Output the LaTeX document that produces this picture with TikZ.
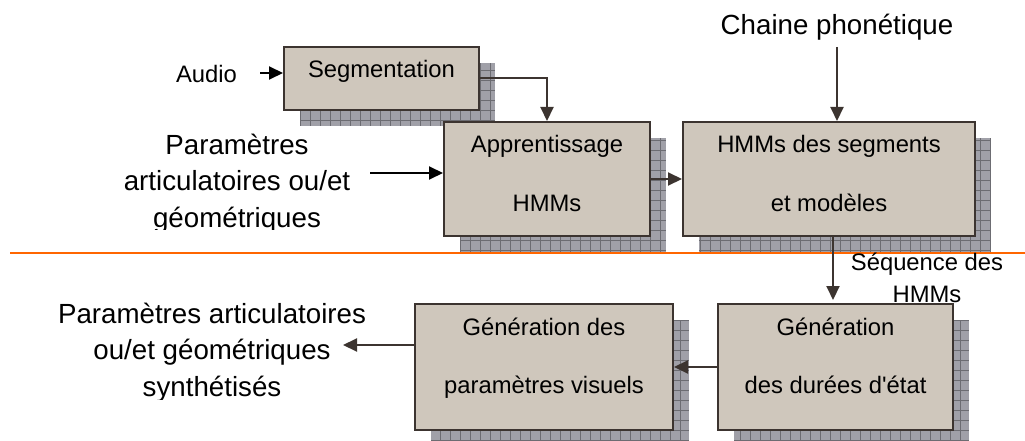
\documentclass[tikz,border=0pt]{standalone}
\usepackage{fontspec}
\setmainfont{Liberation Sans}[Ligatures=TeXOff]
\usetikzlibrary{arrows.meta,calc}
\definecolor{boxfill}{RGB}{207,199,188}
\definecolor{boxline}{RGB}{60,52,48}
\definecolor{shadefill}{RGB}{160,160,168}
\definecolor{shadeline}{RGB}{108,108,114}
\definecolor{sepline}{RGB}{255,102,0}
\newcommand{\bigfont}{\fontsize{27.7}{36.5}\selectfont}
\newcommand{\smallfont}{\fontsize{23.8}{32}\selectfont}

\begin{document}
\begin{tikzpicture}[x=1pt,y=-1pt,
  blk/.style={draw=boxline,fill=boxfill,line width=2pt},
  lbl/.style={anchor=base,font=\smallfont},
  flow/.style={draw=boxline,line width=2pt,-{Triangle[length=14pt,width=13pt]}}]
\tikzstyle{every node}+=[inner sep=0pt]
\useasboundingbox (0,0) rectangle (1025,441);

% shadows
\foreach \l/\t/\r/\b in {284/47/479/110,444/122/650/236,683/122/975/236,718/304/953/430,415/304/673/430}{
  \fill[shadefill] ({\l+16},{\t+16}) rectangle ({\r+16},{\b+16});
  \draw[shadeline,line width=0.6pt,step=10pt] ({\l+16},{\t+16}) grid ({\r+16},{\b+16});
}

% blocks
\node[blk,minimum width=195,minimum height=63] (seg) at (381.5,78.5) {};
\node[blk,minimum width=206,minimum height=114] (appr) at (547,179) {};
\node[blk,minimum width=292,minimum height=114] (hmm) at (829,179) {};
\node[blk,minimum width=235,minimum height=126] (gdur) at (835.5,367) {};
\node[blk,minimum width=258,minimum height=126] (gpar) at (544,367) {};

% separator
\draw[sepline,line width=2pt] (10,253) -- (1025,253);

% text in blocks
\node[lbl] (segt) at (381.5,78) {Segmentation};
\node[lbl] (apprt1) at (547,153) {Apprentissage};
\node[lbl] (apprt2) at (547,211) {HMMs};
\node[lbl] (hmmt1) at (829,153) {HMMs des segments};
\node[lbl] (hmmt2) at (829,211) {et modèles};
\node[lbl] (gdurt1) at (835.5,335) {Génération};
\node[lbl] (gdurt2) at (835.5,393) {des durées d'état};
\node[lbl] (gpart1) at (544,335) {Génération des};
\node[lbl] (gpart2) at (544,393) {paramètres visuels};

% outside text (base = last line)
\node[lbl] (audio) at (206.5,83) {Audio};
\node[lbl,font=\bigfont] (phon) at (837,35) {Chaine phonétique};
\node[lbl,align=center] (seq) at (927,302) {Séquence des\\HMMs};
\begin{scope}
\clip (0,100) rectangle (440,229);
\node[anchor=base,font=\bigfont,align=center] (parin) at (237,227) {Paramètres\\articulatoires ou/et\\géométriques};
\end{scope}
\begin{scope}
\clip (0,290) rectangle (410,399);
\node[anchor=base,font=\bigfont,align=center] (parout) at (212,396) {Paramètres articulatoires\\ou/et géométriques\\synthétisés};
\end{scope}

% arrows
\coordinate (audio-end) at (260,73);
\draw[flow,draw=black] (audio-end) -- (audio-end -| seg.west);
\draw[flow] (seg.east) -| (appr.north);
\coordinate (parin-end) at (370,173);
\draw[flow,draw=black] (parin-end) -- (parin-end -| appr.west);
\draw[flow] (appr.east) -- (hmm.west);
\coordinate (phon-end) at (837,47);
\draw[flow] (phon-end) -- (phon-end |- hmm.north);
\coordinate (seq-line) at (833,0);
\draw[flow,shorten >=3pt] (seq-line |- hmm.south) -- (seq-line |- gdur.north);
\draw[flow] (gdur.west) -- (gpar.east);
\coordinate (parout-tip) at (343,345);
\draw[flow] (parout-tip -| gpar.west) -- (parout-tip);
\end{tikzpicture}
\end{document}
